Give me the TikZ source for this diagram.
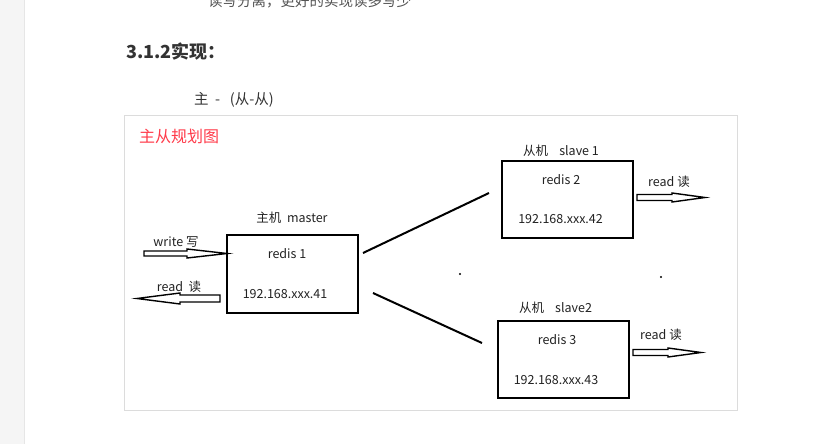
\documentclass[tikz,border=0pt]{standalone}
\usepackage{fontspec}
\setmainfont{Noto Sans CJK SC}
\newfontfamily\cjk{Noto Sans CJK SC}
\definecolor{pagegray}{HTML}{F5F5F5}
\definecolor{edgegray}{HTML}{E6E6E6}
\definecolor{framegray}{HTML}{DCDCDC}
\definecolor{txt}{HTML}{222222}
\definecolor{headtxt}{HTML}{333333}
\definecolor{toptxt}{HTML}{555555}
\definecolor{titlered}{HTML}{FF3B4A}
\tikzset{
  srvbox/.style={draw=black, line width=2pt},
  lbl/.style={inner sep=0pt, text=txt, font=\fontsize{12.5}{14}\selectfont},
  link/.style={draw=black, line width=2pt},
  hollow/.style={draw=black, line width=1.4pt, fill=white, line join=miter},
}
\begin{document}
\begin{tikzpicture}[x=1pt,y=-1pt]
\useasboundingbox (0,0) rectangle (833,444);
\fill[white] (0,0) rectangle (833,444);
% left page margin
\fill[pagegray] (0,0) rectangle (24,444);
\fill[edgegray] (23.5,0) rectangle (25,444);
% page texts
\node[inner sep=0pt, anchor=west, text=toptxt, font=\fontsize{14.5}{16}\selectfont] (toptext) at (208,1) {读写分离，更好的实现读多写少};
\node[inner sep=0pt, anchor=west, text=headtxt, font=\bfseries\fontsize{18}{20}\selectfont] (heading) at (126,52) {3.1.2实现：};
\node[inner sep=0pt, anchor=west, text=headtxt, font=\fontsize{14.5}{16}\selectfont] (subtitle) at (194,100) {主\ \ -\ \ \ (从-从)};
% diagram frame
\draw[framegray, line width=1pt] (124,115.5) rectangle (737.5,410);
\node[inner sep=0pt, anchor=west, text=titlered, font=\fontsize{16}{18}\selectfont] (title) at (139,136) {主从规划图};
% boxes
\draw[srvbox] (227,235) rectangle (358,313);
\coordinate (masterW) at (227,253);
\draw[srvbox] (502,161) rectangle (633,238);
\draw[srvbox] (498,321) rectangle (629,398);
% labels master
\node[lbl] (mlabel) at (292,218) {主机\ \ master};
\node[lbl] (mname) at (287,254) {redis 1};
\node[lbl] (mip) at (285,294) {192.168.xxx.41};
\node[lbl] (wlabel) at (176,242) {write 写};
\node[lbl] (rlabel) at (179,287) {read\ \ 读};
% labels slave1
\node[lbl] (s1label) at (561,151) {从机\ \ \ \ slave 1};
\node[lbl] (s1name) at (561,180) {redis 2};
\node[lbl] (s1ip) at (560.5,219) {192.168.xxx.42};
\node[lbl] (s1read) at (669,182) {read 读};
% labels slave2
\node[lbl] (s2label) at (555.5,308) {从机\ \ \ \ slave2};
\node[lbl] (s2name) at (557,340) {redis 3};
\node[lbl] (s2ip) at (556,380) {192.168.xxx.43};
\node[lbl] (s2read) at (661,335) {read 读};
% links master -> slaves
\coordinate (l1a) at (363,253);
\coordinate (l1b) at (489,193);
\coordinate (l2a) at (373,293);
\coordinate (l2b) at (482,343);
\draw[link] (l1a) -- (l1b);
\draw[link] (l2a) -- (l2b);
% dots
\fill[black] (460,274) circle (1.1);
\fill[black] (661,277) circle (1.1);
% hollow arrows
% write arrow (right)
\draw[hollow] (144,251) -- (187,251) -- (187,249) -- (227,253.5) -- (187,258) -- (187,256) -- (144,256) -- cycle;
% read arrow (left)
\draw[hollow] (220,295) -- (180,295) -- (180,293) -- (137,298.5) -- (180,304) -- (180,302) -- (220,302) -- cycle;
% slave1 read arrow
\draw[hollow] (637,194.5) -- (672,194.5) -- (672,193) -- (705,197.5) -- (672,202) -- (672,200.5) -- (637,200.5) -- cycle;
% slave2 read arrow
\draw[hollow] (633,349.5) -- (668,349.5) -- (668,348) -- (701,352.5) -- (668,357) -- (668,355.5) -- (633,355.5) -- cycle;
\end{tikzpicture}
\end{document}
